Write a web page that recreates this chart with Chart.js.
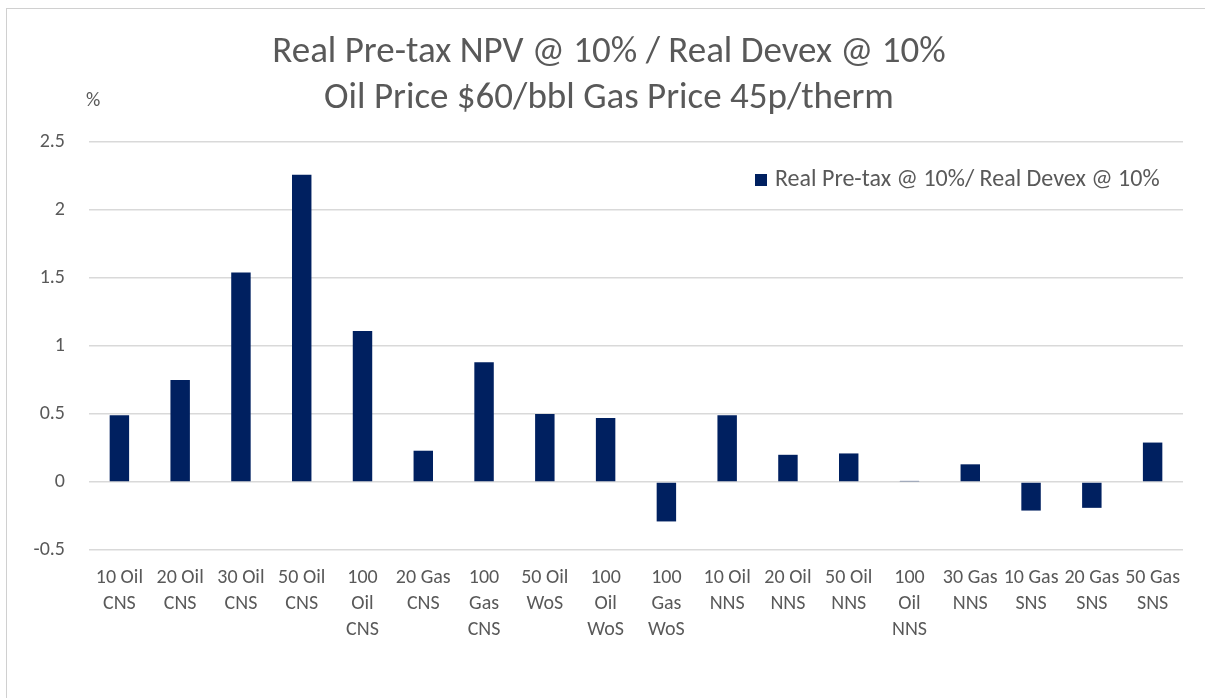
<!DOCTYPE html>
<html>
<head>
<meta charset="utf-8">
<script src="https://cdn.jsdelivr.net/npm/chart.js@4.4.1/dist/chart.umd.min.js"></script>
<style>
  html, body { margin: 0; padding: 0; background: #fff; }
  #wrap { position: relative; width: 1205px; height: 698px; }
  #frame { position: absolute; left: 6px; top: 8px; right: 0; bottom: 0;
           border-left: 1px solid #d0d0d0; border-top: 1px solid #d0d0d0; }
  canvas { position: absolute; left: 0; top: 0; }
</style>
</head>
<body>
<div id="wrap">
  <div id="frame"></div>
  <canvas id="chart" width="1205" height="698"></canvas>
</div>
<script>
// chart data
const categories = [
    ['10 Oil', 'CNS'], ['20 Oil', 'CNS'], ['30 Oil', 'CNS'], ['50 Oil', 'CNS'],
    ['100', 'Oil', 'CNS'], ['20 Gas', 'CNS'], ['100', 'Gas', 'CNS'], ['50 Oil', 'WoS'],
    ['100', 'Oil', 'WoS'], ['100', 'Gas', 'WoS'], ['10 Oil', 'NNS'], ['20 Oil', 'NNS'],
    ['50 Oil', 'NNS'], ['100', 'Oil', 'NNS'], ['30 Gas', 'NNS'], ['10 Gas', 'SNS'],
    ['20 Gas', 'SNS'], ['50 Gas', 'SNS']
];
const npvRatio = [0.49, 0.75, 1.54, 2.26, 1.11, 0.23, 0.88, 0.50, 0.47, -0.29,
                  0.49, 0.20, 0.21, 0.008, 0.13, -0.21, -0.19, 0.29];
const seriesLabel = 'Real Pre-tax @ 10%/ Real Devex @ 10%';
const titleLines = ['Real Pre-tax NPV @ 10% / Real Devex @ 10%', 'Oil Price $60/bbl Gas Price 45p/therm'];
const yTicks = [-0.5, 0, 0.5, 1, 1.5, 2, 2.5];

const FONT = 'Carlito, "Open Sans", sans-serif';
const TXT = '#595959';
const NAVY = '#002060';

// title, "%" unit and legend drawn by hand
const extras = {
    id: 'extras',
    afterDraw(chart) {
        const c = chart.ctx;
        c.save();
        c.fillStyle = TXT;
        c.textAlign = 'center';
        c.textBaseline = 'middle';
        c.font = '37px ' + FONT;
        c.fillText(titleLines[0], 609, 53);
        c.fillText(titleLines[1], 609, 99);

        c.font = '20px ' + FONT;
        c.textAlign = 'left';
        c.fillText('%', 86, 101);

        // legend
        c.fillStyle = NAVY;
        c.fillRect(755, 174, 12, 12);
        c.fillStyle = TXT;
        c.font = '24px ' + FONT;
        c.fillText(chart.data.datasets[0].label, 775, 180);
        c.restore();
    }
};

const ctx = document.getElementById('chart');
new Chart(ctx, {
    type: 'bar',
    data: {
        labels: categories,
        datasets: [{
            label: seriesLabel,
            data: npvRatio,
            backgroundColor: NAVY,
            borderWidth: 0,
            categoryPercentage: 1,
            barPercentage: 0.32
        }]
    },
    options: {
        responsive: false,
        animation: false,
        layout: { padding: { top: 142, right: 22, left: 0, bottom: 0 } },
        plugins: {
            legend: { display: false },
            title: { display: false },
            tooltip: { enabled: false }
        },
        scales: {
            x: {
                grid: { display: false },
                border: { display: false },
                ticks: {
                    color: TXT,
                    font: { family: FONT, size: 20, lineHeight: 1.3 },
                    padding: 7,
                    maxRotation: 0,
                    autoSkip: false
                },
                afterFit(scale) { scale.height = 148; }
            },
            y: {
                min: -0.5,
                max: 2.5,
                afterBuildTicks(scale) { scale.ticks = yTicks.map(v => ({ value: v })); },
                grid: { color: '#d9d9d9', lineWidth: 1.5, drawTicks: false },
                border: { display: false },
                ticks: {
                    color: TXT,
                    font: { family: FONT, size: 20 },
                    padding: 24,
                    callback: v => String(v)
                },
                afterFit(scale) { scale.width = 89; }
            }
        }
    },
    plugins: [extras]
});
</script>
</body>
</html>
